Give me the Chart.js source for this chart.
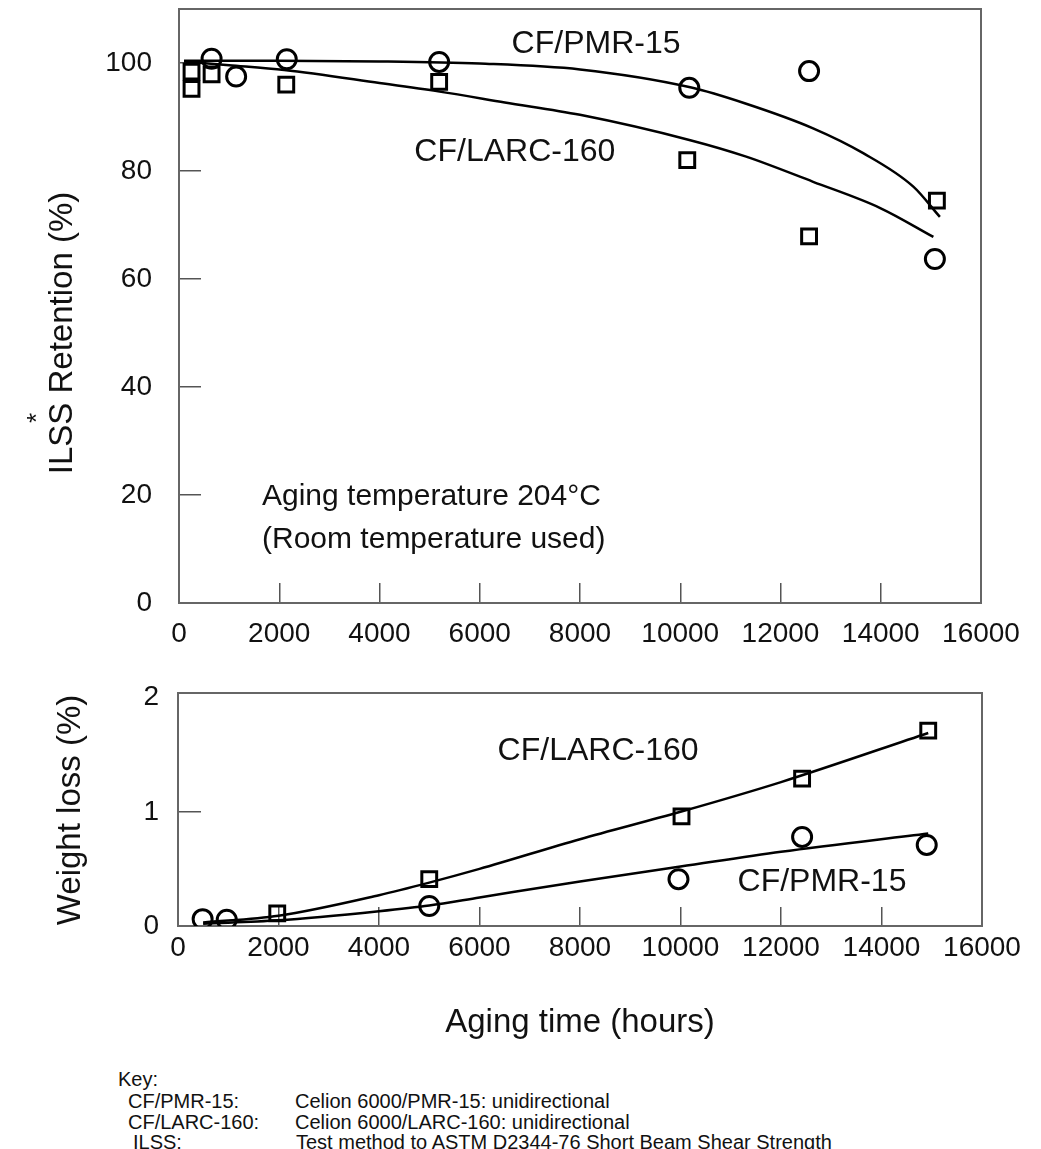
<!DOCTYPE html>
<html>
<head>
<meta charset="utf-8">
<title>ILSS retention and weight loss vs aging time</title>
<script src="https://cdn.jsdelivr.net/npm/chart.js@4.4.1/dist/chart.umd.min.js"></script>
<style>
  body { margin: 0; background: #fff; width: 1041px; height: 1149px; position: relative; overflow: hidden;
         font-family: 'Liberation Sans', Arial, sans-serif; color: #111; }
  canvas { position: absolute; left: 0; }
  #ilssChart { top: 0; }
  #lossChart { top: 660px; }
  .key { position: absolute; font-size: 20px; line-height: 21px; white-space: nowrap; }
</style>
</head>
<body>
<canvas id="ilssChart" width="1041" height="660"></canvas>
<canvas id="lossChart" width="1041" height="400"></canvas>
<div id="keyBox"></div>

<script>
const FONT = "'Liberation Sans', Arial, sans-serif";

// tick labels
const hourTicks = [0, 2000, 4000, 6000, 8000, 10000, 12000, 14000, 16000];
const ilssTicks = [0, 20, 40, 60, 80, 100];
const lossTicks = [0, 1, 2];

// --- ILSS retention (%) : measured points ---
const ilssPmrX = [650, 1140, 2150, 5190, 10180, 12570, 15080];
const ilssPmrY = [100.8, 97.5, 100.7, 100.2, 95.4, 98.5, 63.7];
const ilssLarcX = [250, 250, 650, 2140, 5190, 10140, 12570, 15120];
const ilssLarcY = [98.4, 95.2, 97.9, 96.0, 96.5, 82.0, 67.9, 74.5];

// --- ILSS retention : fitted curves ---
const ilssPmrFitX = [100, 2000, 4000, 6000, 8000, 10200, 11300, 12650, 13650, 14650, 15180];
const ilssPmrFitY = [100.4, 100.4, 100.3, 99.9, 98.8, 95.5, 92.5, 87.9, 83.3, 77.1, 71.5];
const ilssLarcFitX = [100, 1000, 2100, 4000, 5200, 6500, 8000, 10200, 11300, 12650, 14000, 15050];
const ilssLarcFitY = [100.3, 99.6, 98.7, 96.3, 94.7, 92.7, 90.4, 85.7, 82.7, 78.0, 73.1, 67.8];

// --- Weight loss (%) : measured points ---
const lossPmrX = [490, 970, 5000, 9960, 12420, 14900];
const lossPmrY = [0.06, 0.055, 0.175, 0.41, 0.78, 0.71];
const lossLarcX = [1975, 5000, 10020, 12420, 14930];
const lossLarcY = [0.11, 0.41, 0.96, 1.29, 1.71];

// --- Weight loss : fitted curves ---
const lossPmrFitX = [500, 2000, 4000, 5000, 6000, 8000, 10000, 12000, 14930];
const lossPmrFitY = [0.02, 0.05, 0.13, 0.18, 0.25, 0.39, 0.52, 0.65, 0.81];
const lossLarcFitX = [500, 2000, 4000, 5000, 6000, 8000, 10000, 12000, 14930];
const lossLarcFitY = [0.03, 0.09, 0.27, 0.38, 0.50, 0.76, 1.00, 1.26, 1.69];

// key below the charts
const keyTerms = ['CF/PMR-15:', 'CF/LARC-160:', 'ILSS:'];
const keyTexts = ['Celion 6000/PMR-15: unidirectional',
                  'Celion 6000/LARC-160: unidirectional',
                  'Test method to ASTM D2344-76 Short Beam Shear Strength'];

const pts = (xs, ys) => xs.map((x, i) => ({ x: x, y: ys[i] }));

function markers(xs, ys, style, r) {
    return {
        data: pts(xs, ys), showLine: false,
        pointStyle: style, pointRadius: r, pointHoverRadius: r,
        pointBorderWidth: 3, pointBorderColor: '#000', pointBackgroundColor: 'rgba(0,0,0,0)'
    };
}

function curve(xs, ys) {
    return {
        data: pts(xs, ys), showLine: true, borderColor: '#000', borderWidth: 2.5,
        pointRadius: 0, cubicInterpolationMode: 'monotone', fill: false
    };
}

// gray box round the plot area
const framePlugin = {
    id: 'frame',
    beforeDatasetsDraw(chart) {
        const { ctx, chartArea: a } = chart;
        ctx.save();
        ctx.strokeStyle = '#666';
        ctx.lineWidth = 2;
        ctx.strokeRect(a.left, a.top, a.right - a.left, a.bottom - a.top);
        ctx.restore();
    }
};

// curve labels (in data units) and rotated side titles
const notesPlugin = {
    id: 'notes',
    afterDatasetsDraw(chart, args, opts) {
        const { ctx, scales } = chart;
        ctx.save();
        ctx.fillStyle = '#111';
        (opts.items || []).forEach(n => {
            ctx.font = n.size + 'px ' + FONT;
            ctx.textAlign = n.align || 'center';
            ctx.textBaseline = 'middle';
            ctx.fillText(n.text, scales.x.getPixelForValue(n.x), scales.y.getPixelForValue(n.y));
        });
        (opts.side || []).forEach(t => {
            ctx.save();
            ctx.translate(t.px, t.py);
            ctx.rotate(-Math.PI / 2);
            ctx.font = t.size + 'px ' + FONT;
            ctx.textAlign = 'center';
            ctx.textBaseline = t.baseline || 'alphabetic';
            ctx.fillText(t.text, 0, 0);
            ctx.restore();
        });
        ctx.restore();
    }
};

// keep the plot area where the layout padding says (no extra room for tick labels)
function noPad(s) {
    s.paddingTop = 0; s.paddingBottom = 0; s.paddingLeft = 0; s.paddingRight = 0;
}

// tick marks only inside the box, none on the box edges
const tickColor = (ctx, min, max) =>
    (ctx.tick && (ctx.tick.value <= min || ctx.tick.value >= max)) ? 'rgba(0,0,0,0)' : '#555';

function xAxis(height, tickLen, pad, title) {
    return {
        type: 'linear', min: 0, max: 16000,
        afterBuildTicks: s => { s.ticks = hourTicks.map(v => ({ value: v })); },
        ticks: { autoSkip: false, maxRotation: 0, padding: pad, color: '#111',
                 font: { family: FONT, size: 28 }, callback: v => String(v) },
        grid: { drawOnChartArea: false, drawTicks: true, tickLength: -tickLen, lineWidth: 1.5,
                color: c => tickColor(c, 0, 16000) },
        border: { display: true, color: '#666', width: 2 },
        title: title,
        afterFit: s => { s.height = height; noPad(s); }
    };
}

function yAxis(width, max, tickVals, tickLen, pad) {
    return {
        type: 'linear', min: 0, max: max,
        afterBuildTicks: s => { s.ticks = tickVals.map(v => ({ value: v })); },
        ticks: { padding: pad, color: '#111', font: { family: FONT, size: 28 } },
        grid: { drawOnChartArea: false, drawTicks: true, tickLength: -tickLen, lineWidth: 1.5,
                color: c => tickColor(c, 0, tickVals[tickVals.length - 1] === max ? max : max - 0.1) },
        border: { display: true, color: '#666', width: 2 },
        afterFit: s => { s.width = width; noPad(s); }
    };
}

// Grafik atas: ILSS retention
new Chart(document.getElementById('ilssChart'), {
    type: 'scatter',
    data: {
        datasets: [
            curve(ilssPmrFitX, ilssPmrFitY),
            curve(ilssLarcFitX, ilssLarcFitY),
            markers(ilssPmrX, ilssPmrY, 'circle', 9.5),
            markers(ilssLarcX, ilssLarcY, 'rect', 10.5)
        ]
    },
    options: {
        responsive: false, animation: false,
        layout: { autoPadding: false, padding: { top: 9, right: 60, left: 0, bottom: 0 } },
        scales: {
            x: xAxis(57, 20, 34, { display: false }),
            y: yAxis(179, 110, ilssTicks, 22, 49)
        },
        plugins: {
            legend: { display: false },
            tooltip: { enabled: false },
            notes: {
                items: [
                    { text: 'CF/PMR-15', x: 8320, y: 103.5, size: 32 },
                    { text: 'CF/LARC-160', x: 6700, y: 83.5, size: 32 },
                    { text: 'Aging temperature 204°C', x: 1656, y: 19.6, size: 30, align: 'left' },
                    { text: '(Room temperature used)', x: 1656, y: 11.7, size: 30, align: 'left' }
                ],
                side: [
                    { text: 'ILSS Retention (%)', px: 72, py: 333, size: 33 },
                    { text: '*', px: 38, py: 418, size: 26, baseline: 'middle' }
                ]
            }
        }
    },
    plugins: [framePlugin, notesPlugin]
});

// Grafik bawah: weight loss
new Chart(document.getElementById('lossChart'), {
    type: 'scatter',
    data: {
        datasets: [
            curve(lossLarcFitX, lossLarcFitY),
            curve(lossPmrFitX, lossPmrFitY),
            markers(lossPmrX, lossPmrY, 'circle', 9.5),
            markers(lossLarcX, lossLarcY, 'rect', 10.5)
        ]
    },
    options: {
        responsive: false, animation: false,
        layout: { autoPadding: false, padding: { top: 33, right: 59, left: 0, bottom: 0 } },
        scales: {
            x: xAxis(134, 19, 24, {
                display: true, text: 'Aging time (hours)', color: '#111',
                font: { family: FONT, size: 33 }, padding: { top: 0, bottom: 17 }
            }),
            y: yAxis(178, 2.04, lossTicks, 23, 42)
        },
        plugins: {
            legend: { display: false },
            tooltip: { enabled: false },
            notes: {
                items: [
                    { text: 'CF/LARC-160', x: 8360, y: 1.535, size: 32 },
                    { text: 'CF/PMR-15', x: 12816, y: 0.386, size: 32 }
                ],
                side: [
                    { text: 'Weight loss (%)', px: 80, py: 150, size: 33 }
                ]
            }
        }
    },
    plugins: [framePlugin, notesPlugin]
});

// Key
const keyBox = document.getElementById('keyBox');
const keyRows = [
    { left: 118, top: 1069, text: 'Key:' },
    { left: 128, top: 1091, text: keyTerms[0] },
    { left: 295, top: 1091, text: keyTexts[0] },
    { left: 128, top: 1112, text: keyTerms[1] },
    { left: 295, top: 1112, text: keyTexts[1] },
    { left: 133, top: 1132, text: keyTerms[2] },
    { left: 296, top: 1132, text: keyTexts[2] }
];
keyRows.forEach(r => {
    const d = document.createElement('div');
    d.className = 'key';
    d.style.left = r.left + 'px';
    d.style.top = r.top + 'px';
    d.textContent = r.text;
    keyBox.appendChild(d);
});
</script>
</body>
</html>
